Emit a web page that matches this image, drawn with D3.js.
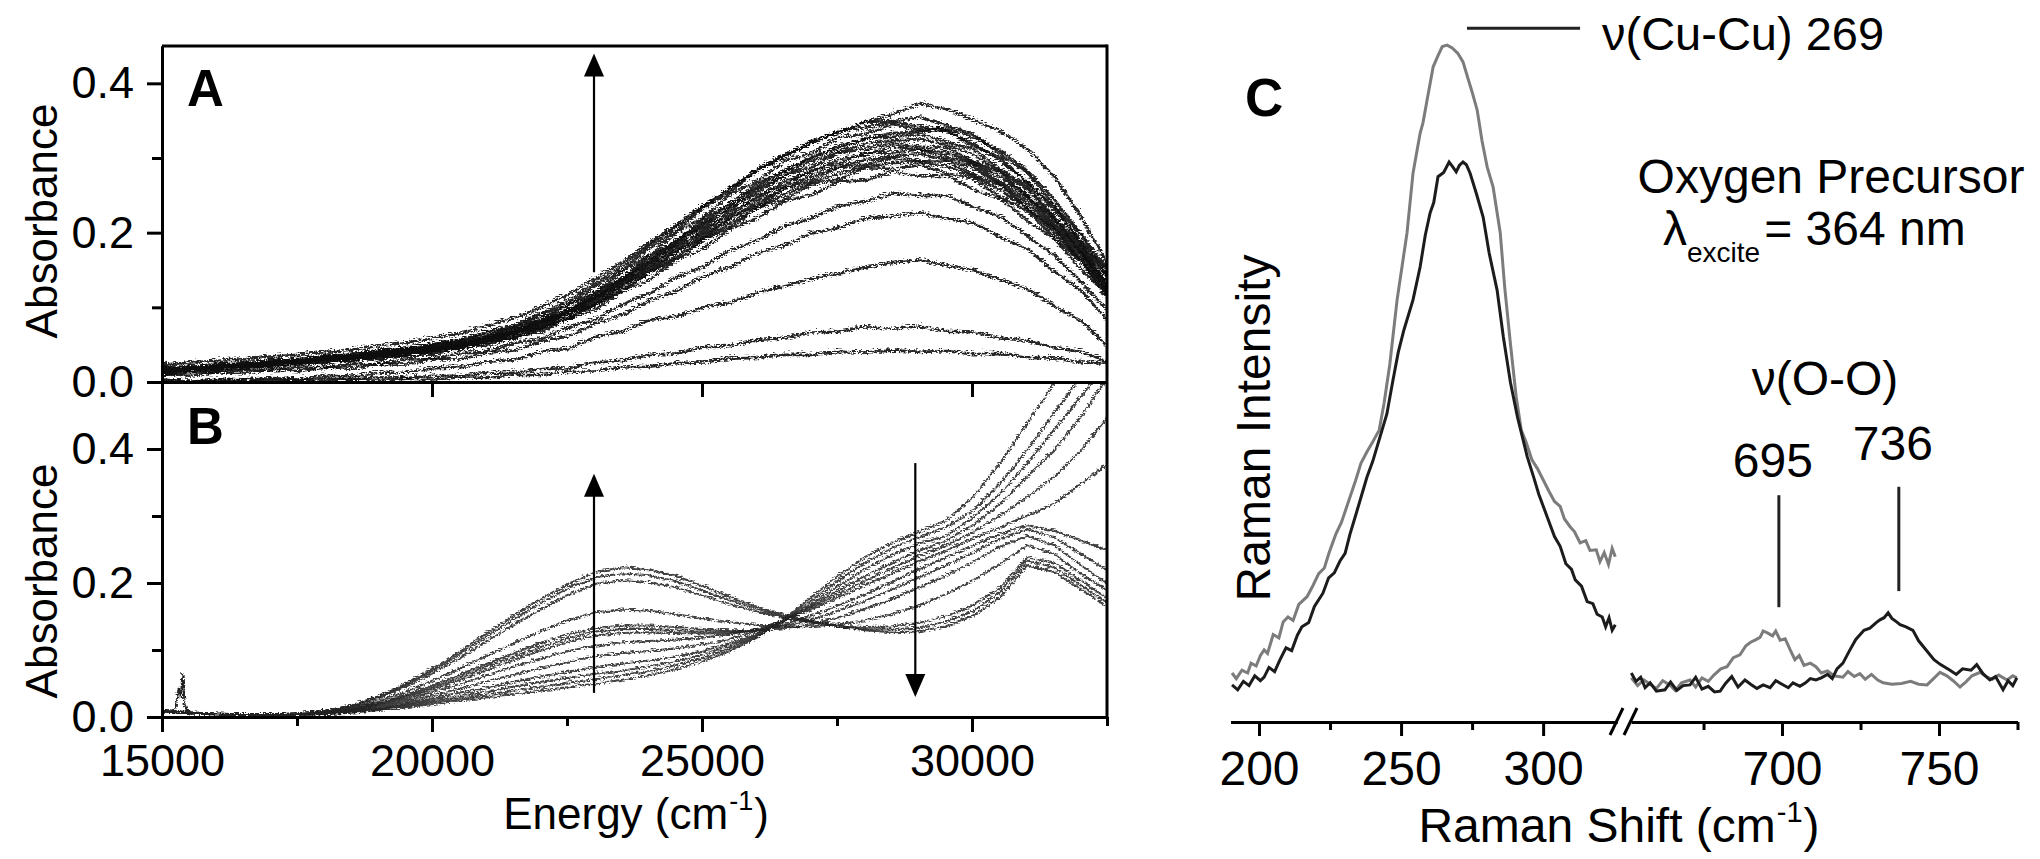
<!DOCTYPE html>
<html><head><meta charset="utf-8">
<script src="https://cdn.jsdelivr.net/npm/d3@7"></script>
<style>
html,body{margin:0;padding:0;background:#fff;}
svg{display:block;}
text{font-family:"Liberation Sans",Arial,Helvetica,sans-serif;fill:#000;}
</style></head><body>
<svg id="chart" width="2040" height="859"></svg>
<script>
// ---------- DATA ----------
const energies = [15000,15500,16000,16500,17000,17500,18000,18500,19000,19500,20000,20500,21000,21500,22000,22500,23000,23500,24000,24500,25000,25500,26000,26500,27000,27500,28000,28500,29000,29500,30000,30500,31000,31500,32000,32500];
const energyTicks = [15000,20000,25000,30000];
const energyMinor = [17500,22500,27500,32500];
const absTicks = [0.0,0.2,0.4];
const absMinor = [0.1,0.3];

// Panel A traces (absorbance at each energy)
const absA_top = [0.026,0.029,0.031,0.033,0.037,0.039,0.043,0.046,0.051,0.055,0.062,0.068,0.078,0.088,0.103,0.12,0.141,0.163,0.189,0.213,0.239,0.262,0.286,0.305,0.323,0.337,0.351,0.361,0.375,0.368,0.353,0.338,0.314,0.277,0.222,0.158];
const absA_b1 = [0.022,0.02,0.027,0.026,0.032,0.031,0.038,0.039,0.045,0.046,0.054,0.058,0.069,0.075,0.093,0.106,0.131,0.152,0.182,0.205,0.236,0.257,0.287,0.303,0.325,0.336,0.351,0.352,0.357,0.346,0.334,0.307,0.282,0.238,0.198,0.14];
const absA_b2 = [0.017,0.024,0.023,0.029,0.028,0.034,0.033,0.041,0.04,0.048,0.049,0.059,0.063,0.077,0.086,0.107,0.122,0.151,0.172,0.203,0.223,0.254,0.272,0.298,0.309,0.33,0.335,0.347,0.34,0.34,0.318,0.303,0.268,0.237,0.187,0.14];
const absA_b3 = [0.021,0.019,0.025,0.024,0.031,0.029,0.036,0.035,0.043,0.043,0.051,0.053,0.065,0.071,0.087,0.099,0.123,0.142,0.171,0.192,0.221,0.241,0.269,0.284,0.305,0.315,0.33,0.331,0.335,0.324,0.314,0.287,0.264,0.223,0.186,0.13];
const absA_b4 = [0.016,0.022,0.021,0.027,0.026,0.032,0.031,0.038,0.037,0.045,0.045,0.056,0.059,0.072,0.081,0.1,0.115,0.141,0.161,0.19,0.21,0.237,0.256,0.279,0.29,0.309,0.315,0.322,0.318,0.316,0.298,0.283,0.25,0.221,0.175,0.132];
const absA_b5 = [0.02,0.018,0.024,0.022,0.029,0.027,0.034,0.033,0.04,0.04,0.048,0.05,0.061,0.066,0.082,0.093,0.115,0.133,0.16,0.18,0.207,0.226,0.252,0.266,0.286,0.295,0.309,0.31,0.314,0.304,0.294,0.27,0.248,0.21,0.174,0.12];
const absA_b6 = [0.015,0.02,0.019,0.025,0.024,0.03,0.029,0.036,0.035,0.042,0.042,0.052,0.055,0.067,0.075,0.094,0.106,0.133,0.15,0.178,0.196,0.222,0.239,0.262,0.272,0.29,0.294,0.303,0.298,0.298,0.28,0.266,0.235,0.206,0.164,0.124];
const absA_b7 = [0.018,0.016,0.022,0.02,0.027,0.025,0.032,0.031,0.037,0.037,0.045,0.046,0.057,0.061,0.076,0.086,0.107,0.124,0.149,0.167,0.193,0.21,0.236,0.247,0.267,0.274,0.289,0.288,0.293,0.282,0.275,0.25,0.231,0.195,0.163,0.112];
const absA_b8 = [0.014,0.018,0.018,0.023,0.022,0.028,0.027,0.034,0.032,0.04,0.039,0.049,0.051,0.063,0.07,0.088,0.099,0.124,0.139,0.166,0.181,0.208,0.222,0.245,0.253,0.271,0.273,0.284,0.278,0.279,0.26,0.248,0.218,0.194,0.152,0.117];
const absA_b9 = [0.023,0.021,0.026,0.027,0.03,0.033,0.037,0.038,0.044,0.047,0.053,0.06,0.07,0.079,0.095,0.112,0.135,0.158,0.186,0.211,0.238,0.262,0.288,0.307,0.322,0.338,0.343,0.35,0.345,0.338,0.322,0.298,0.27,0.232,0.19,0.15];
const absA_b10 = [0.019,0.022,0.022,0.027,0.027,0.032,0.032,0.038,0.039,0.045,0.047,0.055,0.061,0.072,0.083,0.1,0.118,0.142,0.166,0.193,0.216,0.242,0.264,0.286,0.302,0.318,0.328,0.336,0.338,0.342,0.33,0.312,0.285,0.246,0.2,0.152];
const absA_b11 = [0.016,0.02,0.021,0.024,0.027,0.029,0.033,0.035,0.04,0.042,0.049,0.052,0.062,0.069,0.083,0.097,0.118,0.138,0.165,0.187,0.214,0.235,0.261,0.279,0.298,0.31,0.322,0.326,0.328,0.32,0.307,0.284,0.26,0.22,0.182,0.128];
const absA_b12 = [0.019,0.017,0.023,0.022,0.028,0.028,0.033,0.034,0.039,0.041,0.047,0.051,0.06,0.068,0.08,0.096,0.112,0.137,0.156,0.185,0.203,0.231,0.248,0.272,0.283,0.301,0.307,0.318,0.314,0.31,0.296,0.277,0.252,0.214,0.178,0.118];
const absA_b13 = [0.017,0.019,0.021,0.023,0.026,0.028,0.031,0.034,0.037,0.041,0.044,0.051,0.057,0.067,0.077,0.093,0.109,0.131,0.154,0.177,0.2,0.222,0.244,0.262,0.278,0.291,0.3,0.305,0.308,0.3,0.289,0.267,0.242,0.207,0.17,0.126];
const absA_b14 = [0.015,0.017,0.02,0.021,0.025,0.026,0.03,0.032,0.036,0.038,0.043,0.047,0.056,0.062,0.074,0.088,0.106,0.126,0.149,0.171,0.194,0.215,0.236,0.254,0.269,0.282,0.291,0.296,0.297,0.291,0.278,0.259,0.235,0.201,0.165,0.115];
const absA_l6 = [0.012,0.016,0.015,0.019,0.018,0.022,0.021,0.027,0.026,0.033,0.033,0.041,0.043,0.055,0.06,0.076,0.086,0.107,0.121,0.143,0.157,0.179,0.192,0.211,0.222,0.238,0.244,0.255,0.252,0.252,0.237,0.224,0.197,0.172,0.135,0.097];
const absA_l4 = [0.013,0.011,0.016,0.014,0.019,0.017,0.022,0.02,0.027,0.026,0.033,0.033,0.042,0.045,0.057,0.064,0.081,0.092,0.112,0.124,0.144,0.156,0.175,0.185,0.202,0.209,0.222,0.224,0.229,0.221,0.215,0.196,0.18,0.15,0.124,0.083];
const absA_l1 = [0.006,0.003,0.006,0.005,0.008,0.006,0.011,0.01,0.015,0.015,0.021,0.022,0.03,0.032,0.043,0.047,0.063,0.07,0.086,0.09,0.102,0.109,0.122,0.131,0.14,0.148,0.156,0.162,0.166,0.158,0.152,0.139,0.127,0.104,0.084,0.048];
const absA_l2 = [0.004,0.002,0.005,0.003,0.006,0.004,0.007,0.006,0.009,0.008,0.011,0.011,0.015,0.015,0.02,0.021,0.029,0.031,0.039,0.041,0.049,0.051,0.059,0.061,0.069,0.07,0.076,0.074,0.077,0.07,0.069,0.061,0.058,0.048,0.043,0.028];
const absA_l3 = [0.001,0.003,0.002,0.004,0.002,0.005,0.003,0.006,0.004,0.007,0.006,0.009,0.008,0.012,0.012,0.016,0.017,0.022,0.023,0.028,0.029,0.034,0.035,0.039,0.039,0.043,0.042,0.045,0.043,0.044,0.04,0.04,0.035,0.034,0.029,0.027];

// Panel B traces
const absB_0  = [0.012,0.008,0.006,0.005,0.005,0.005,0.006,0.008,0.012,0.016,0.021,0.026,0.031,0.036,0.041,0.046,0.051,0.057,0.064,0.073,0.085,0.1,0.12,0.148,0.18,0.212,0.24,0.262,0.278,0.295,0.33,0.38,0.44,0.5,0.56,0.62];
const absB_1  = [0.01,0.007,0.006,0.005,0.004,0.005,0.006,0.009,0.013,0.018,0.024,0.029,0.035,0.041,0.047,0.053,0.058,0.064,0.07,0.079,0.09,0.104,0.122,0.146,0.175,0.205,0.232,0.254,0.27,0.285,0.31,0.35,0.4,0.455,0.51,0.57];
const absB_2  = [0.011,0.008,0.006,0.006,0.005,0.005,0.006,0.009,0.014,0.02,0.027,0.033,0.04,0.047,0.054,0.06,0.066,0.071,0.077,0.085,0.095,0.108,0.124,0.145,0.17,0.197,0.222,0.244,0.26,0.272,0.3,0.335,0.38,0.43,0.48,0.53];
const absB_3  = [0.01,0.007,0.005,0.005,0.005,0.006,0.007,0.01,0.015,0.022,0.03,0.038,0.046,0.054,0.062,0.069,0.076,0.081,0.086,0.092,0.1,0.112,0.126,0.145,0.167,0.19,0.212,0.232,0.25,0.265,0.288,0.32,0.36,0.4,0.45,0.51];
const absB_4  = [0.012,0.008,0.007,0.005,0.005,0.006,0.007,0.011,0.017,0.025,0.034,0.044,0.055,0.065,0.075,0.084,0.092,0.097,0.1,0.104,0.11,0.118,0.13,0.146,0.165,0.185,0.205,0.224,0.242,0.258,0.278,0.302,0.33,0.36,0.4,0.45];
const absB_5  = [0.011,0.007,0.006,0.005,0.005,0.006,0.008,0.012,0.019,0.028,0.039,0.051,0.064,0.077,0.089,0.1,0.108,0.113,0.115,0.117,0.12,0.125,0.133,0.146,0.162,0.18,0.198,0.216,0.234,0.25,0.268,0.285,0.302,0.32,0.35,0.38];
const absB_6  = [0.01,0.008,0.006,0.005,0.005,0.006,0.008,0.013,0.021,0.031,0.043,0.057,0.072,0.087,0.101,0.114,0.123,0.127,0.128,0.127,0.126,0.127,0.131,0.14,0.153,0.168,0.185,0.203,0.222,0.24,0.258,0.275,0.288,0.28,0.265,0.25];
const absB_7  = [0.011,0.008,0.006,0.005,0.005,0.006,0.008,0.013,0.022,0.033,0.046,0.061,0.077,0.092,0.106,0.119,0.129,0.133,0.133,0.131,0.129,0.129,0.131,0.137,0.147,0.16,0.175,0.192,0.21,0.228,0.247,0.268,0.282,0.27,0.245,0.22];
const absB_8  = [0.012,0.008,0.006,0.005,0.005,0.006,0.009,0.014,0.023,0.035,0.049,0.065,0.081,0.097,0.112,0.125,0.134,0.138,0.138,0.136,0.133,0.131,0.131,0.134,0.14,0.15,0.163,0.178,0.195,0.213,0.233,0.256,0.272,0.258,0.228,0.2];
const absB_9  = [0.01,0.007,0.006,0.005,0.005,0.006,0.009,0.015,0.026,0.04,0.056,0.074,0.093,0.112,0.13,0.146,0.158,0.162,0.16,0.155,0.149,0.143,0.139,0.137,0.137,0.14,0.146,0.155,0.168,0.185,0.206,0.23,0.258,0.245,0.215,0.19];
const absB_10 = [0.011,0.008,0.006,0.005,0.005,0.007,0.01,0.017,0.03,0.047,0.067,0.09,0.115,0.14,0.163,0.184,0.2,0.206,0.203,0.195,0.183,0.17,0.159,0.15,0.143,0.138,0.136,0.137,0.142,0.152,0.168,0.195,0.24,0.232,0.205,0.178];
const absB_11 = [0.01,0.008,0.006,0.005,0.005,0.007,0.011,0.018,0.032,0.05,0.071,0.096,0.122,0.148,0.172,0.194,0.21,0.216,0.213,0.204,0.19,0.176,0.163,0.152,0.144,0.137,0.133,0.132,0.135,0.144,0.16,0.188,0.235,0.225,0.198,0.172];
const absB_12 = [0.012,0.009,0.006,0.005,0.005,0.007,0.011,0.019,0.033,0.052,0.074,0.1,0.127,0.154,0.178,0.2,0.218,0.225,0.222,0.212,0.197,0.181,0.166,0.154,0.145,0.137,0.131,0.128,0.129,0.137,0.153,0.18,0.228,0.218,0.192,0.165];
const spikeB_energy = [15150,15230,15290,15330,15360,15400,15450,15550];
const spikeB_abs    = [0.008,0.014,0.045,0.03,0.067,0.02,0.012,0.007];

// Arrows (energy, from-absorbance, to-absorbance)
const arrowA  = [23000, 0.147, 0.44];
const arrowBup = [23000, 0.036, 0.363];
const arrowBdown = [28950, 0.379, 0.03];

// Panel C: Raman spectra (shift cm-1, intensity a.u.)
const ramanLowGray = [[190.5,7.0],[192,6.2],[194,7.4],[196,7.0],[197.2,8.4],[199,8.0],[200.5,9.5],[201.8,10.3],[203,9.8],[205,12.5],[207,12.0],[208.5,14.3],[210.2,15.0],[212,14.5],[214,16.8],[216.9,17.9],[219,19.5],[221,21.2],[223,22.0],[224.6,24.1],[227,26.8],[229,28.5],[232,32.1],[234,34.5],[235.9,37.0],[238,38.6],[240,40.0],[242.3,41.7],[244,45.5],[246,51],[248.6,60.3],[250.5,65.5],[252.1,69.9],[254.2,78.4],[256.7,84.1],[257.7,85.6],[259,88.5],[261.3,93.6],[263,95.2],[264.5,96.5],[266.2,96.7],[268,96.3],[270,95.5],[271.8,94.3],[273.5,92.0],[275,90.0],[276.8,87.4],[278.5,83.0],[280.3,79.3],[282.4,76.4],[284.9,69.9],[286.5,62.0],[288.5,54.0],[290.5,46.5],[292.3,41.7],[294,40.0],[296,37.5],[298,36.2],[300,34.6],[302,33.0],[304,31.5],[306,30.8],[307.5,29.0],[309.5,27.9],[311,27.2],[313,25.6],[315,25.9],[316.5,24.5],[318.7,24.6],[320,22.9],[321.5,24.2],[323,22.5],[324.3,24.8],[325.4,23.6]];
const ramanLowBlack = [[190.5,5.3],[192.5,4.6],[194.5,5.8],[196.5,5.2],[198.5,6.6],[200.5,5.9],[201.8,6.4],[203.5,7.8],[205.5,7.2],[207.4,8.9],[209.5,10.6],[211.5,10.2],[213.5,12.4],[215.1,13.6],[217.5,14.2],[219.5,16.5],[222.5,18.4],[224.5,20.6],[226.5,21.3],[228.5,23.0],[230.3,24.1],[232,26.8],[234,29.5],[235.9,32.1],[238,35.0],[240,37.2],[243.3,41.7],[245,44.0],[247,48.5],[249,52.8],[251,56.0],[254.2,60.3],[256.7,65.0],[258.5,69.5],[260.2,72.7],[261.5,74.2],[263,77.9],[265,78.5],[266.9,80.0],[268,79.4],[269.4,78.6],[270.5,79.5],[271.8,80.0],[273,79.6],[274.3,78.4],[276.5,75.5],[278.9,72.1],[281,67.0],[283.8,61.7],[286,55.0],[288.5,48.5],[291,43.5],[294.4,37.9],[296.5,35.2],[298.5,32.5],[301.8,28.9],[304,26.5],[306,25.1],[308,22.6],[310,21.8],[311.3,20.3],[313.5,19.4],[315.5,17.2],[317.5,16.9],[319,15.4],[320.8,15.0],[322,13.6],[323.2,14.9],[324.3,13.1],[325.4,13.9]];
const ramanHighGray = [[652,6.3],[654,5.2],[656,6.0],[658,5.4],[660,4.8],[662,5.9],[664.3,5.3],[666,4.5],[668,5.6],[670.7,6.0],[672.5,5.0],[674.5,6.3],[676.5,5.8],[678.3,6.7],[680.5,7.6],[682.5,7.9],[684.5,9.2],[686.6,9.6],[688.5,10.9],[690,11.4],[691.4,11.7],[693,12.1],[694,13.0],[695.5,12.7],[697,12.3],[698,13.0],[699.4,11.7],[701,11.9],[702.5,10.4],[704.1,8.9],[705.5,9.5],[707,8.1],[709,8.4],[710.8,7.9],[712.5,7.0],[714.5,7.3],[716.5,6.6],[719.4,6.4],[721,7.2],[723,6.5],[724.8,6.9],[726.5,6.1],[728.5,6.8],[730.5,6.0],[732.2,5.6],[735,5.4],[738,5.5],[741,5.8],[743.5,5.4],[746.2,5.3],[748.5,6.3],[750.3,7.1],[752.5,6.6],[754.5,5.9],[756.7,5.0],[758.5,5.7],[760.5,6.6],[763.1,7.1],[765,6.5],[767,6.1],[769,6.7],[771.7,6.0],[773.5,6.6],[774.8,6.3]];
const ramanHighBlack = [[652,7.0],[653.5,5.8],[655,6.4],[656.4,4.9],[658,5.6],[660,4.4],[662.7,4.6],[664.5,5.7],[666.5,4.5],[668.5,5.2],[670.7,5.3],[672.5,6.4],[674.5,4.7],[676.5,5.1],[678.5,4.3],[680.3,4.4],[682,5.5],[684,6.5],[686,5.0],[688.2,6.0],[690,5.4],[692,4.8],[694,5.3],[696.2,4.9],[698,5.9],[700,5.4],[702,4.9],[703.5,5.6],[705.7,5.1],[707.5,5.6],[709,6.2],[710.8,6.0],[712.5,6.3],[714.5,6.8],[716,6.2],[717.5,7.6],[719.4,8.4],[721.5,10.2],[723.5,11.8],[726.1,13.1],[728,13.4],[730,14.2],[731.2,14.6],[732.5,14.9],[733.8,15.6],[735,14.8],[736.5,14.3],[737.6,13.9],[739.5,13.6],[741.7,13.1],[743.5,11.6],[745.5,10.5],[748.4,8.9],[750.5,8.2],[753.5,7.4],[755.5,6.8],[757.5,7.6],[760.2,7.4],[762,8.2],[764,6.9],[766.2,6.0],[768,6.5],[770.4,4.6],[772,5.9],[773.5,5.2],[774.8,6.3]];
const ramanTicksLow = [200,250,300];
const ramanMinorLow = [225,275];
const ramanTicksHigh = [700,750];
const ramanMinorHigh = [675,725,775];
// annotations: [shift, intensity-from, intensity-to]
const markerCuCu = [273.2, 313.0, 99.1];
const marker695 = [699, 16.4, 32.4];
const marker736 = [737.2, 18.7, 33.6];

// ---------- DRAW ----------
const svg = d3.select("#chart");
const ink = "#000";

const xE = d3.scaleLinear().domain([15000, 32500]).range([162, 1107]);
const yA = d3.scaleLinear().domain([0, 0.45]).range([382, 46]);
const yB = d3.scaleLinear().domain([0, 0.5]).range([717, 382]);

const defs = svg.append("defs");
defs.append("clipPath").attr("id","clipA").append("rect").attr("x",162).attr("y",46).attr("width",945).attr("height",336);
defs.append("clipPath").attr("id","clipB").append("rect").attr("x",162).attr("y",382).attr("width",945).attr("height",335);
// measurement-noise look for the spectra (stroke texture only)
function jitterFilter(id, freq, scale){
  const f = defs.append("filter").attr("id",id).attr("x","-2%").attr("y","-5%").attr("width","104%").attr("height","110%");
  f.append("feTurbulence").attr("type","turbulence").attr("baseFrequency",freq).attr("numOctaves",2).attr("seed",3).attr("result","n");
  f.append("feDisplacementMap").attr("in","SourceGraphic").attr("in2","n").attr("scale",scale).attr("xChannelSelector","R").attr("yChannelSelector","G");
}
jitterFilter("jitA","0.22 0.5",6);
jitterFilter("jitB","0.2 0.5",4);

const tracesA = [absA_top,absA_b1,absA_b9,absA_b2,absA_b10,absA_b3,absA_b11,absA_b4,absA_b12,absA_b5,absA_b13,absA_b6,absA_b14,absA_b7,absA_b8,absA_l6,absA_l4,absA_l1,absA_l2,absA_l3];
const tracesB = [absB_0,absB_1,absB_2,absB_3,absB_4,absB_5,absB_6,absB_7,absB_8,absB_9,absB_10,absB_11,absB_12];

const lineA = d3.line().x((d,i)=>xE(energies[i])).y(d=>yA(d));
const lineB = d3.line().x((d,i)=>xE(energies[i])).y(d=>yB(d));

svg.append("g").attr("clip-path","url(#clipA)").append("g").attr("filter","url(#jitA)")
  .selectAll("path").data(tracesA).join("path")
  .attr("d", lineA).attr("fill","none").attr("stroke","#111").attr("stroke-width",2.6).attr("stroke-opacity",0.9)
  .attr("stroke-linejoin","round");

const gB = svg.append("g").attr("clip-path","url(#clipB)").append("g").attr("filter","url(#jitB)");
gB.selectAll("path.tr").data(tracesB).join("path").attr("class","tr")
  .attr("d", lineB).attr("fill","none").attr("stroke","#222").attr("stroke-width",2.0).attr("stroke-opacity",0.85);
gB.append("path")
  .attr("d", d3.line().x((d,i)=>xE(spikeB_energy[i])).y(d=>yB(d))(spikeB_abs))
  .attr("fill","none").attr("stroke","#222").attr("stroke-width",2.0);

// arrows
function arrow(x, y0, y1){
  const dir = y1 < y0 ? 1 : -1; // 1 = up
  const head = 23, half = 10;
  svg.append("line").attr("x1",x).attr("x2",x).attr("y1",y0).attr("y2",y1 + dir*head*0.6)
    .attr("stroke",ink).attr("stroke-width",2.2);
  svg.append("path").attr("d",`M${x},${y1} L${x-half},${y1+dir*head} L${x+half},${y1+dir*head} Z`).attr("fill",ink);
}
arrow(xE(arrowA[0]), yA(arrowA[1]), yA(arrowA[2]));
arrow(xE(arrowBup[0]), yB(arrowBup[1]), yB(arrowBup[2]));
arrow(xE(arrowBdown[0]), yB(arrowBdown[1]), yB(arrowBdown[2]));

// frame
const fw = 3;
svg.append("line").attr("x1",162).attr("x2",1107).attr("y1",yA(0.45)).attr("y2",yA(0.45)).attr("stroke",ink).attr("stroke-width",fw);
svg.append("line").attr("x1",xE(32500)).attr("x2",xE(32500)).attr("y1",yA(0.45)-1.5).attr("y2",yB(0)+1.5).attr("stroke",ink).attr("stroke-width",fw);

// axes via d3
function styleAxis(g){
  g.selectAll(".domain").attr("stroke",ink).attr("stroke-width",fw);
  g.selectAll(".tick line").attr("stroke",ink).attr("stroke-width",fw);
}
const fmt = d3.format(".1f");
const gAy = svg.append("g").attr("transform","translate(162,0)")
  .call(d3.axisLeft(yA).tickValues(absTicks).tickFormat(fmt).tickSize(15).tickSizeOuter(0).tickPadding(13));
const gAyMinor = svg.append("g").attr("transform","translate(162,0)")
  .call(d3.axisLeft(yA).tickValues(absMinor).tickFormat("").tickSize(10).tickSizeOuter(0));
const gBy = svg.append("g").attr("transform","translate(162,0)")
  .call(d3.axisLeft(yB).tickValues(absTicks).tickFormat(fmt).tickSize(15).tickSizeOuter(0).tickPadding(13));
const gByMinor = svg.append("g").attr("transform","translate(162,0)")
  .call(d3.axisLeft(yB).tickValues(absMinor).tickFormat("").tickSize(10).tickSizeOuter(0));
const gAx = svg.append("g").attr("transform",`translate(0,${yA(0)})`)
  .call(d3.axisBottom(xE).tickValues(energyTicks.slice(1)).tickFormat("").tickSize(15).tickSizeOuter(0));
const gBx = svg.append("g").attr("transform",`translate(0,${yB(0)})`)
  .call(d3.axisBottom(xE).tickValues(energyTicks).tickFormat(d3.format("d")).tickSize(15).tickSizeOuter(0).tickPadding(12));
const gBxMinor = svg.append("g").attr("transform",`translate(0,${yB(0)})`)
  .call(d3.axisBottom(xE).tickValues(energyMinor).tickFormat("").tickSize(9).tickSizeOuter(0));
[gAy,gAyMinor,gBy,gByMinor,gAx,gBx,gBxMinor].forEach(styleAxis);
[gAyMinor,gByMinor,gAx,gBxMinor].forEach(g=>g.selectAll(".tick text").remove());
[gAy,gBy,gBx].forEach(g=>g.selectAll(".tick text").attr("font-size",45).attr("font-family",'"Liberation Sans",Arial,sans-serif').attr("fill",ink));
gBx.selectAll(".tick text").attr("dy","0.72em");

// labels with superscripts as separate texts
function supLabel(cx, y, base, sup, tail, fs, sfs, rise){
  const t1 = svg.append("text").attr("y",y).attr("font-size",fs).text(base);
  const t2 = svg.append("text").attr("y",y-rise).attr("font-size",sfs).text(sup);
  const t3 = svg.append("text").attr("y",y).attr("font-size",fs).text(tail);
  const w1 = t1.node().getComputedTextLength(), w2 = t2.node().getComputedTextLength(), w3 = t3.node().getComputedTextLength();
  const x0 = cx - (w1+w2+w3+2)/2;
  t1.attr("x",x0); t2.attr("x",x0+w1+1); t3.attr("x",x0+w1+w2+2);
}

svg.append("text").attr("x",187).attr("y",106).attr("font-size",51).attr("font-weight","bold").text("A");
svg.append("text").attr("x",187).attr("y",444).attr("font-size",51).attr("font-weight","bold").text("B");
svg.append("text").attr("transform","translate(57,221) rotate(-90)").attr("text-anchor","middle").attr("font-size",44).text("Absorbance");
svg.append("text").attr("transform","translate(57,581) rotate(-90)").attr("text-anchor","middle").attr("font-size",44).text("Absorbance");
supLabel(636, 829, "Energy (cm", "-1", ")", 44, 27, 19);

// ---------- Panel C ----------
const xL = d3.scaleLinear().domain([190, 326]).range([1230.6, 1617]);
const xR = d3.scaleLinear().domain([652, 775]).range([1631.3, 2017.5]);
const yC = d3.scaleLinear().domain([0, 100]).range([722, 22]);

const lineL = d3.line().x(d=>xL(d[0])).y(d=>yC(d[1]));
const lineR = d3.line().x(d=>xR(d[0])).y(d=>yC(d[1]));
const grayC = "#7c7c7c", blackC = "#1c1c1c";
svg.append("path").attr("d",lineL(ramanLowGray)).attr("fill","none").attr("stroke",grayC).attr("stroke-width",3);
svg.append("path").attr("d",lineL(ramanLowBlack)).attr("fill","none").attr("stroke",blackC).attr("stroke-width",3);
svg.append("path").attr("d",lineR(ramanHighGray)).attr("fill","none").attr("stroke",grayC).attr("stroke-width",3);
svg.append("path").attr("d",lineR(ramanHighBlack)).attr("fill","none").attr("stroke",blackC).attr("stroke-width",3);

const gCL = svg.append("g").attr("transform",`translate(0,${yC(0)})`)
  .call(d3.axisBottom(xL).tickValues(ramanTicksLow).tickFormat(d3.format("d")).tickSize(14).tickSizeOuter(0).tickPadding(14));
const gCLm = svg.append("g").attr("transform",`translate(0,${yC(0)})`)
  .call(d3.axisBottom(xL).tickValues(ramanMinorLow).tickFormat("").tickSize(8).tickSizeOuter(0));
const gCR = svg.append("g").attr("transform",`translate(0,${yC(0)})`)
  .call(d3.axisBottom(xR).tickValues(ramanTicksHigh).tickFormat(d3.format("d")).tickSize(14).tickSizeOuter(0).tickPadding(14));
const gCRm = svg.append("g").attr("transform",`translate(0,${yC(0)})`)
  .call(d3.axisBottom(xR).tickValues(ramanMinorHigh).tickFormat("").tickSize(8).tickSizeOuter(0));
[gCL,gCLm,gCR,gCRm].forEach(styleAxis);
[gCLm,gCRm].forEach(g=>g.selectAll(".tick text").remove());
[gCL,gCR].forEach(g=>g.selectAll(".tick text").attr("font-size",48).attr("font-family",'"Liberation Sans",Arial,sans-serif').attr("fill",ink).attr("dy","0.72em"));

// axis break marks
const yAx = yC(0);
[0,14].forEach(dx=>{
  svg.append("line").attr("x1",1610+dx).attr("y1",yAx+13).attr("x2",1623+dx).attr("y2",yAx-14)
    .attr("stroke",ink).attr("stroke-width",3);
});

svg.append("text").attr("x",1245).attr("y",116).attr("font-size",53).attr("font-weight","bold").text("C");
svg.append("text").attr("transform","translate(1270,428) rotate(-90)").attr("text-anchor","middle").attr("font-size",48).text("Raman Intensity");
supLabel(1619, 842, "Raman Shift (cm", "-1", ")", 48, 29, 20);

// annotations
svg.append("line").attr("x1",xL(markerCuCu[0])).attr("x2",xL(markerCuCu[1])).attr("y1",yC(markerCuCu[2])).attr("y2",yC(markerCuCu[2])).attr("stroke","#222").attr("stroke-width",3);
svg.append("text").attr("x",1602).attr("y",50).attr("font-size",47).text("ν(Cu-Cu) 269");
svg.append("text").attr("x",1831).attr("y",193).attr("text-anchor","middle").attr("font-size",48).text("Oxygen Precursor");
(function(){
  const y = 245;
  const t1 = svg.append("text").attr("x",1663).attr("y",y).attr("font-size",48).text("λ");
  const w1 = t1.node().getComputedTextLength();
  const t2 = svg.append("text").attr("x",1663+w1).attr("y",y+17).attr("font-size",28).text("excite");
  const w2 = t2.node().getComputedTextLength();
  svg.append("text").attr("x",1663+w1+w2+4).attr("y",y).attr("font-size",48).text("= 364 nm");
})();
svg.append("text").attr("x",1825).attr("y",395).attr("text-anchor","middle").attr("font-size",48).text("ν(O-O)");
[[marker695,"695",477],[marker736,"736",460]].forEach(([m,lab,by])=>{
  svg.append("line").attr("x1",xR(m[0])).attr("x2",xR(m[0])).attr("y1",yC(m[1])).attr("y2",yC(m[2])).attr("stroke","#222").attr("stroke-width",3);
  svg.append("text").attr("x",xR(m[0])-6).attr("y",by).attr("text-anchor","middle").attr("font-size",48).text(lab);
});
</script>
</body></html>
